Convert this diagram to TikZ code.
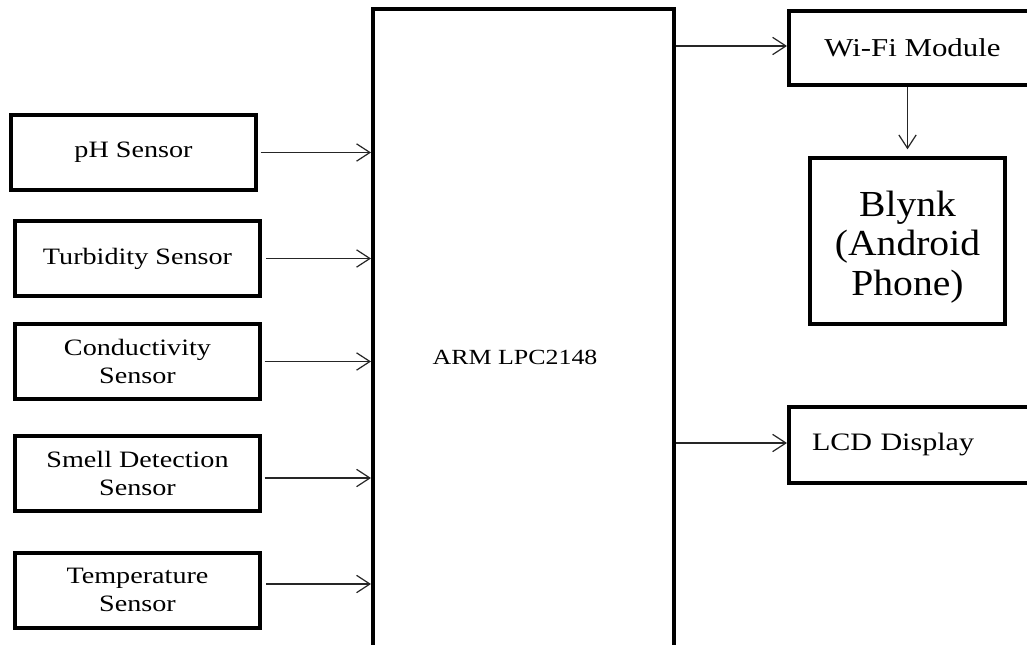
\documentclass[tikz,border=0pt]{standalone}
\usepackage{fontspec}
\setmainfont{Liberation Serif}
\newfontfamily\wide{Liberation Serif}[FakeStretch=1.2]
\newfontfamily\widebig{Liberation Serif}[FakeStretch=1.08]
\usetikzlibrary{arrows.meta}
\tikzset{
  box/.style={draw=black, line width=3pt, rectangle, align=center, inner sep=0pt},
  sensor/.style={box, minimum width=183.75pt, minimum height=56.25pt,
                 font=\wide\fontsize{17.6}{21}\selectfont},
  arr/.style={draw=black!85, line width=0.9pt, -{Straight Barb[length=10pt,width=13pt]}},
  lbl/.style={inner sep=0pt, align=center}
}
\begin{document}
\begin{tikzpicture}[x=0.75pt, y=-0.75pt]
\useasboundingbox (0,0) rectangle (1027,645);
\clip (0,0) rectangle (1027,645);
\fill[white] (0,0) rectangle (1027,645);

% sensors
\node[sensor] (ph)   at (133.5,152.5) {pH Sensor};
\node[sensor] (turb) at (137.5,258.5) {Turbidity Sensor};
\node[sensor] (cond) at (137.5,361.5) {Conductivity\\Sensor};
\node[sensor] (smell) at (137.5,473) {Smell Detection\\Sensor};
\node[sensor] (temp) at (137.5,590) {Temperature\\Sensor};

% main controller
\node[box, minimum width=225.75pt, minimum height=480pt] (arm) at (523.5,329) {};
\node[lbl, font=\wide\fontsize{16.2}{19}\selectfont] (armtxt) at (515,357) {ARM LPC2148};

% outputs
\node[box, minimum width=185.25pt, minimum height=55.5pt,
      font=\wide\fontsize{19.3}{22}\selectfont] (wifi) at (912.5,48) {Wi-Fi Module};
\node[box, minimum width=146.25pt, minimum height=124.5pt] (blynk) at (907.5,241) {};
\node[lbl, font=\widebig\fontsize{27.5}{29.5}\selectfont] (blynktxt) at (907.5,247) {Blynk\\(Android\\Phone)};
\node[box, minimum width=185.25pt, minimum height=57pt, text width=150.75pt,
      inner xsep=17.25pt, align=left,
      font=\wide\fontsize{18.8}{21}\selectfont] (lcd) at (912.5,445) {LCD Display};

% connectors
\draw[arr, shorten <=2pt] (ph.east) -- (ph.east -| arm.west);
\draw[arr, shorten <=3pt] (turb.east) -- (turb.east -| arm.west);
\draw[arr, shorten <=2pt] (cond.east) -- (cond.east -| arm.west);
\draw[arr, shorten <=2pt] ([yshift=-3.75pt]smell.east) -- ([yshift=-3.75pt]smell.east -| arm.west);
\draw[arr, shorten <=3pt] ([yshift=4.5pt]temp.east) -- ([yshift=4.5pt]temp.east -| arm.west);

\draw[arr] ([yshift=1.5pt]wifi.west -| arm.east) -- ([yshift=1.5pt]wifi.west);
\draw[arr] ([yshift=1.5pt]lcd.west -| arm.east) -- ([yshift=1.5pt]lcd.west);
\draw[arr, shorten >=5pt] (blynk.north |- wifi.south) -- (blynk.north);
\end{tikzpicture}
\end{document}
